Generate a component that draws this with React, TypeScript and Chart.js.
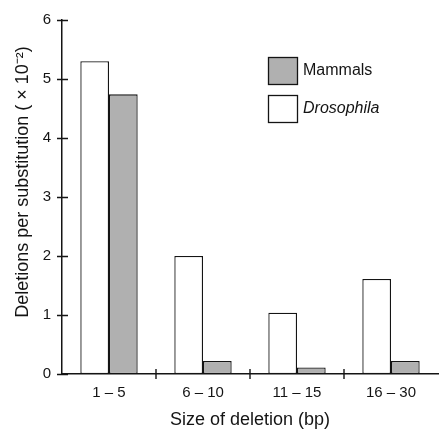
import React, { useEffect, useRef } from "react";
import { Chart, registerables } from "chart.js";

Chart.register(...registerables);

const categories = ["1 – 5", "6 – 10", "11 – 15", "16 – 30"];
const drosophila = [5.3, 2.0, 1.04, 1.61];
const mammals = [4.74, 0.22, 0.11, 0.22];
const yTicks = [0, 1, 2, 3, 4, 5, 6];

const FONT = "'Liberation Sans', Arial, Helvetica, sans-serif";
const INK = "#141414";
const GRAY = "#b0b0b0";

const crossTicks = {
  id: "crossTicks",
  afterDraw(chart: any) {
    const ctx = chart.ctx;
    const x = chart.scales.x;
    const y = chart.scales.y;
    ctx.save();
    ctx.strokeStyle = INK;
    ctx.lineWidth = 1.4;
    ctx.beginPath();
    for (const v of yTicks) {
      const py = Math.round(y.getPixelForValue(v)) + 0.5;
      ctx.moveTo(y.right - 5, py);
      ctx.lineTo(y.right + 6, py);
    }
    for (let i = 1; i < categories.length; i++) {
      const px = (x.getPixelForTick(i - 1) + x.getPixelForTick(i)) / 2;
      ctx.moveTo(px, x.top - 5);
      ctx.lineTo(px, x.top + 5);
    }
    ctx.stroke();

    // legend (Mammals first, then Drosophila)
    const order = [1, 0];
    const boxX = 268;
    const boxTops = [57, 95];
    order.forEach((di, k) => {
      const ds = chart.data.datasets[di];
      const top = boxTops[k];
      ctx.fillStyle = ds.backgroundColor;
      ctx.fillRect(boxX, top, 30, 28);
      ctx.lineWidth = 1.3;
      ctx.strokeStyle = INK;
      ctx.strokeRect(boxX + 0.5, top + 0.5, 29, 27);
      ctx.fillStyle = INK;
      ctx.font = (di === 0 ? "italic " : "") + "16px " + FONT;
      ctx.textBaseline = "middle";
      ctx.textAlign = "left";
      ctx.fillText(ds.label, 303, top + 14);
    });
    ctx.restore();
  },
};

export default function App() {
  const ref = useRef<HTMLCanvasElement | null>(null);
  useEffect(() => {
    if (!ref.current) return;
    const chart = new Chart(ref.current, {
      type: "bar",
      data: {
        labels: categories,
        datasets: [
          {
            label: "Drosophila",
            data: drosophila,
            backgroundColor: "#ffffff",
            borderColor: INK,
            borderWidth: 1.3,
            borderSkipped: false,
          },
          {
            label: "Mammals",
            data: mammals,
            backgroundColor: GRAY,
            borderColor: INK,
            borderWidth: 1.3,
            borderSkipped: false,
          },
        ],
      },
      plugins: [crossTicks],
      options: {
        responsive: false,
        animation: false,
        events: [],
        layout: { padding: { top: 15, right: 2, bottom: 0, left: 0 } },
        datasets: { bar: { categoryPercentage: 0.61, barPercentage: 1 } },
        plugins: {
          legend: { display: false },
          tooltip: { enabled: false },
        },
        scales: {
          x: {
            grid: { display: false, drawTicks: false, tickLength: 0 },
            border: { display: true, color: INK, width: 1.5 },
            ticks: {
              color: INK,
              font: { family: FONT, size: 15 },
              padding: 10,
              maxRotation: 0,
            },
            title: {
              display: true,
              text: "Size of deletion (bp)",
              color: INK,
              font: { family: FONT, size: 18 },
              padding: { top: 0, bottom: 0 },
            },
            afterFit(scale: any) {
              scale.height = 57;
            },
          },
          y: {
            min: 0,
            max: 6,
            afterBuildTicks(scale: any) {
              scale.ticks = yTicks.map((v) => ({ value: v }));
            },
            grid: { display: false, drawTicks: false, tickLength: 0 },
            border: { display: true, color: INK, width: 1.5 },
            ticks: {
              color: INK,
              font: { family: FONT, size: 15 },
              padding: 11,
            },
            title: {
              display: true,
              text: "      Deletions per substitution ( × 10⁻²)",
              color: INK,
              font: { family: FONT, size: 18 },
              padding: { top: 12, bottom: 0 },
            },
            afterFit(scale: any) {
              scale.width = 62;
            },
          },
        },
      },
    });
    return () => chart.destroy();
  }, []);
  return (
    <div style={{ position: "absolute", left: 0, top: 0, width: 440, height: 431, background: "#fff" }}>
      <canvas ref={ref} width={440} height={431} style={{ display: "block" }} />
    </div>
  );
}
